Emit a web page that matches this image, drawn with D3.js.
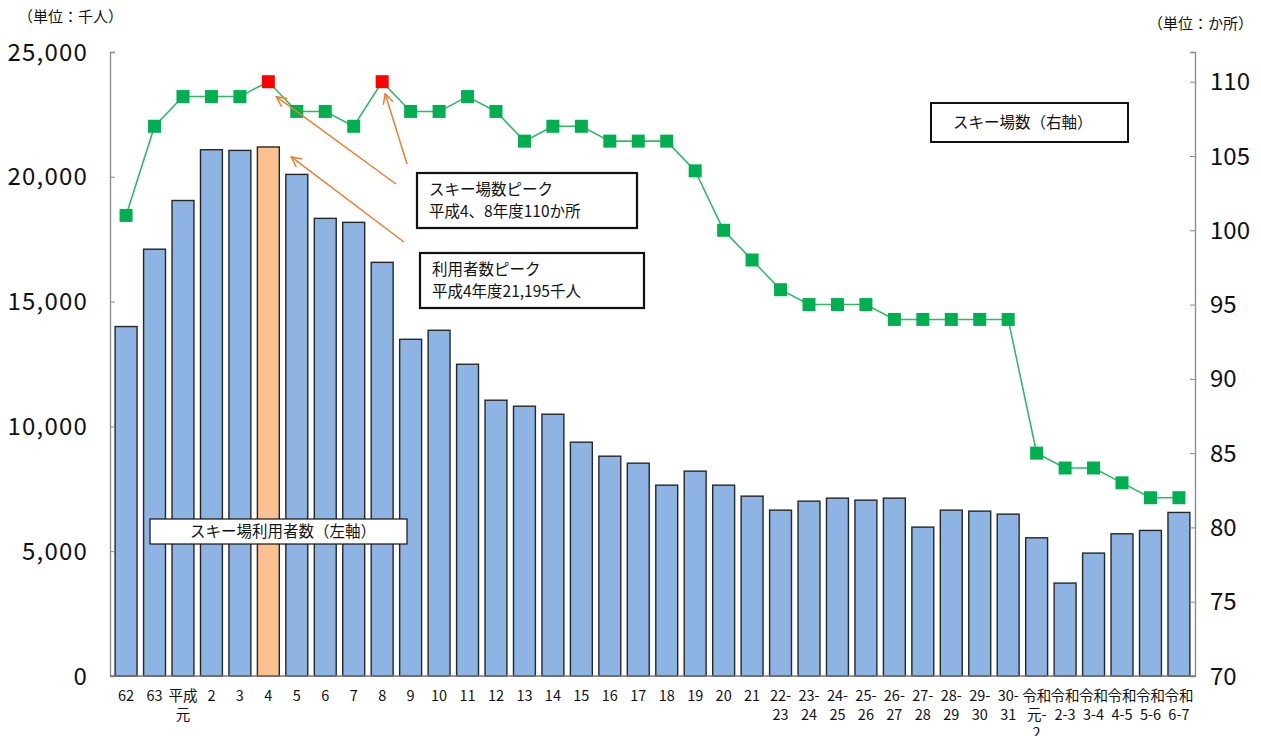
<!DOCTYPE html>
<html>
<head>
<meta charset="utf-8">
<script src="https://cdn.jsdelivr.net/npm/d3@7"></script>
<style>
  body { margin: 0; background: #fff; }
  text { font-family: "Noto Sans CJK JP", "Noto Sans", sans-serif; fill: #111; }
</style>
</head>
<body>
<div id="chart"></div>
<script>
//Data
const categories = ['62', '63', '平成元', '2', '3', '4', '5', '6', '7', '8', '9', '10', '11', '12', '13', '14', '15', '16', '17', '18', '19', '20', '21',
  '22-23', '23-24', '24-25', '25-26', '26-27', '27-28', '28-29', '29-30', '30-31',
  '令和元-2', '令和2-3', '令和3-4', '令和4-5', '令和5-6', '令和6-7'];
// tick labels as they wrap under each bar
const tickLabels = ['62', '63', '平成\n元', '2', '3', '4', '5', '6', '7', '8', '9', '10', '11', '12', '13', '14', '15', '16', '17', '18', '19', '20', '21',
  '22-\n23', '23-\n24', '24-\n25', '25-\n26', '26-\n27', '27-\n28', '28-\n29', '29-\n30', '30-\n31',
  '令和\n元-\n2', '令和\n2-3', '令和\n3-4', '令和\n4-5', '令和\n5-6', '令和\n6-7'];
// スキー場利用者数 (千人)
const users = [14000, 17100, 19050, 21085, 21057, 21195, 20096, 18335, 18175, 16573, 13490, 13851, 12490, 11049, 10809, 10488, 9367, 8807, 8527, 7646, 8207, 7646, 7206,
  6645, 7005, 7126, 7046, 7126, 5965, 6645, 6605, 6485,
  5537, 3723, 4924, 5697, 5832, 6553];
// スキー場数 (か所)
const resorts = [101, 107, 109, 109, 109, 110, 108, 108, 107, 110, 108, 108, 109, 108, 106, 107, 107, 106, 106, 106, 104, 100, 98,
  96, 95, 95, 95, 94, 94, 94, 94, 94,
  85, 84, 84, 83, 82, 82];
const leftTicks = [0, 5000, 10000, 15000, 20000, 25000];
const rightTicks = [70, 75, 80, 85, 90, 95, 100, 105, 110];
const peakUsers = '4';
const peakResorts = ['4', '8'];

//Visual
const width = 1261;
const height = 736;
const plot = { left: 110, right: 1195, top: 52, bottom: 676 };

const svg = d3.select('#chart')
  .append('svg')
  .attr('width', width)
  .attr('height', height);

const defs = svg.append('defs');
defs.append('marker')
  .attr('id', 'arrow')
  .attr('viewBox', '0 0 12 12')
  .attr('refX', 11).attr('refY', 6)
  .attr('markerWidth', 12).attr('markerHeight', 12)
  .attr('markerUnits', 'userSpaceOnUse')
  .attr('orient', 'auto')
  .append('path')
  .attr('d', 'M1,1 L11,6 L1,11')
  .attr('fill', 'none')
  .attr('stroke', '#ED7D31')
  .attr('stroke-width', 1.5);

const x = d3.scaleBand()
  .domain(categories)
  .range([plot.left, plot.right])
  .paddingInner(0.23)
  .paddingOuter(0.18);

const yLeft = d3.scaleLinear().domain([0, 25000]).range([plot.bottom, plot.top]);
const yRight = d3.scaleLinear().domain([70, 112]).range([plot.bottom, plot.top]);

// bars
svg.selectAll('rect.bar')
  .data(users)
  .enter()
  .append('rect')
  .attr('class', 'bar')
  .attr('x', (d, i) => x(categories[i]))
  .attr('y', d => yLeft(d))
  .attr('width', x.bandwidth())
  .attr('height', d => yLeft(0) - yLeft(d))
  .attr('fill', (d, i) => categories[i] === peakUsers ? '#FAC090' : '#8EB4E3')
  .attr('stroke', '#262626')
  .attr('stroke-width', 1.4);

// left axis
const axisL = svg.append('g')
  .attr('transform', `translate(${plot.left},0)`)
  .call(d3.axisRight(yLeft).tickValues(leftTicks).tickSize(5).tickFormat(''));
axisL.select('.domain').attr('stroke', '#888').attr('stroke-width', 1.3);
axisL.selectAll('.tick line').attr('stroke', '#888');

svg.selectAll('text.ltick')
  .data(leftTicks)
  .enter()
  .append('text')
  .attr('class', 'ltick')
  .attr('x', 88)
  .attr('y', d => yLeft(d))
  .attr('dy', '0.36em')
  .attr('text-anchor', 'end')
  .style('font-size', '24px')
  .style('letter-spacing', '1.2px')
  .text(d => d3.format(',')(d));

// right axis
const axisR = svg.append('g')
  .attr('transform', `translate(${plot.right},0)`)
  .call(d3.axisLeft(yRight).tickValues(rightTicks).tickSize(5).tickFormat(''));
axisR.select('.domain').attr('stroke', '#888').attr('stroke-width', 1.3);
axisR.selectAll('.tick line').attr('stroke', '#888');

svg.selectAll('text.rtick')
  .data(rightTicks)
  .enter()
  .append('text')
  .attr('class', 'rtick')
  .attr('x', 1210)
  .attr('y', d => yRight(d))
  .attr('dy', '0.36em')
  .style('font-size', '24px')
  .text(d => d);

// bottom axis
svg.append('line')
  .attr('x1', plot.left).attr('x2', plot.right)
  .attr('y1', plot.bottom).attr('y2', plot.bottom)
  .attr('stroke', '#777').attr('stroke-width', 1.5);

const xl = svg.selectAll('text.xtick')
  .data(tickLabels)
  .enter()
  .append('text')
  .attr('class', 'xtick')
  .attr('text-anchor', 'middle')
  .style('font-size', '14.5px')
  .attr('transform', (d, i) => `translate(${x(categories[i]) + x.bandwidth() / 2},701)`);
xl.selectAll('tspan')
  .data(d => d.split('\n'))
  .enter()
  .append('tspan')
  .attr('x', 0)
  .attr('y', (d, i) => i * 18.5)
  .text(d => d);

// line + markers
const line = d3.line()
  .x((d, i) => x(categories[i]) + x.bandwidth() / 2)
  .y(d => yRight(d));

svg.append('path')
  .datum(resorts)
  .attr('d', line)
  .attr('fill', 'none')
  .attr('stroke', '#33B866')
  .attr('stroke-width', 1.6);

const ms = 13;
svg.selectAll('rect.mk')
  .data(resorts)
  .enter()
  .append('rect')
  .attr('class', 'mk')
  .attr('x', (d, i) => x(categories[i]) + x.bandwidth() / 2 - ms / 2)
  .attr('y', d => yRight(d) - ms / 2)
  .attr('width', ms)
  .attr('height', ms)
  .attr('fill', (d, i) => peakResorts.includes(categories[i]) ? '#FF0000' : '#00B050');

// annotations
function box(x0, y0, w, h, lines, size, sw, tx, gap) {
  svg.append('rect')
    .attr('x', x0).attr('y', y0).attr('width', w).attr('height', h)
    .attr('fill', '#fff').attr('stroke', '#111').attr('stroke-width', sw);
  const t = svg.append('text').style('font-size', size + 'px');
  lines.forEach((s, i) => {
    t.append('tspan')
      .attr('x', tx)
      .attr('y', y0 + h / 2 + (i - (lines.length - 1) / 2) * gap)
      .attr('dy', '0.36em')
      .text(s);
  });
}

function arrow(x1, y1, x2, y2) {
  svg.append('line')
    .attr('x1', x1).attr('y1', y1).attr('x2', x2).attr('y2', y2)
    .attr('stroke', '#ED7D31')
    .attr('stroke-width', 1.5)
    .attr('marker-end', 'url(#arrow)');
}

const cx = c => x(c) + x.bandwidth() / 2;
arrow(396, 184, cx('4') + 8, yRight(110) + 15);
arrow(407, 164, cx('8') + 3, yRight(110) + 12);
arrow(404, 242, x('4') + x.bandwidth() + 12, yLeft(users[categories.indexOf('4')]) + 10);

box(417, 173, 220, 55, ['スキー場数ピーク', '平成4、8年度110か所'], 15.5, 2.2, 429, 22.5);
box(420, 253, 224, 55, ['利用者数ピーク', '平成4年度21,195千人'], 15.5, 2.2, 432, 22.5);
box(931, 103, 197, 39, ['スキー場数（右軸）'], 15.5, 2, 953, 0);
box(150, 519, 257, 25, ['スキー場利用者数（左軸）'], 15.5, 1.2, 190, 0);

// units
svg.append('text').attr('x', 18).attr('y', 22).style('font-size', '15px').text('（単位：千人）');
svg.append('text').attr('x', 1148).attr('y', 29).style('font-size', '15px').text('（単位：か所）');
</script>
</body>
</html>
